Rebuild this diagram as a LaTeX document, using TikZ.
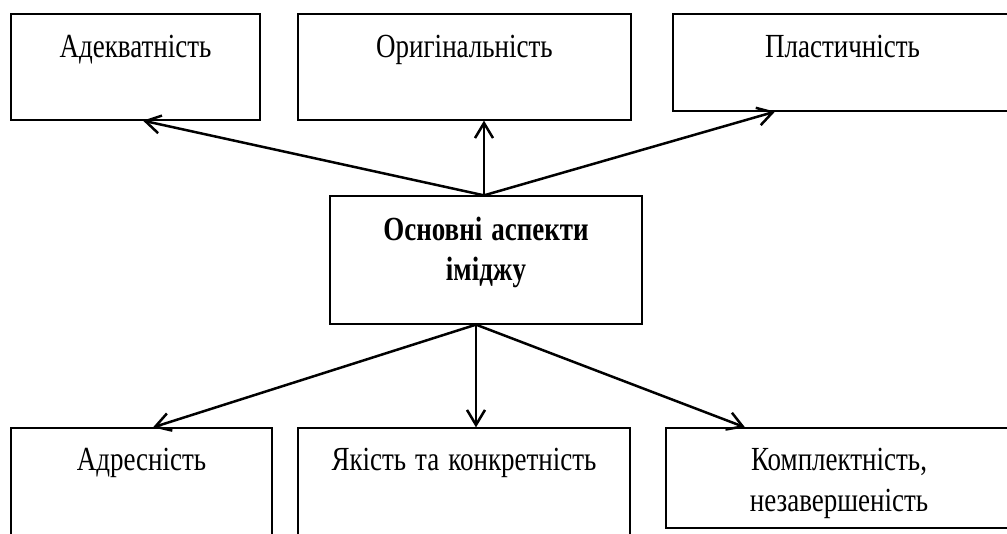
\documentclass[tikz,border=0pt]{standalone}
\usepackage{graphicx}
\usepackage{fontspec}
\setmainfont{Liberation Serif}
\usetikzlibrary{arrows.meta}

\newcommand{\tall}[1]{\scalebox{1}[1.25]{#1}}

\tikzset{
  box/.style={draw, line width=1.3pt, inner sep=0pt, align=center,
    font=\fontsize{27}{41}\selectfont},
  arr/.style={line width=2.5pt, -{Straight Barb[length=15pt,width=18pt]}},
}

\begin{document}
\begin{tikzpicture}[x=1pt, y=-1pt]
    \clip (0,0) rectangle (1007,534);
    \node[box, text width=249pt, text height=44pt, text depth=62pt] (adeq) at (135.5,67) {\tall{Адекватність}};
    \node[box, text width=333pt, text height=44pt, text depth=62pt] (orig) at (464.5,67) {\tall{Оригінальність}};
    \node[box, text width=339pt, text height=44pt, text depth=53pt] (plast) at (842.5,62.5) {\tall{Пластичність}};
    \node[box, text width=312pt, text height=45pt, text depth=83pt,
      font=\fontsize{27}{40}\selectfont\bfseries] (main) at (486,260) {\tall{Основні аспекти}\\\tall{іміджу}};
    \node[box, text width=261pt, text height=43pt, text depth=99pt] (adres) at (141.5,499) {\tall{Адресність}};
    \node[box, text width=332pt, text height=43pt, text depth=99pt] (yakist) at (464,499) {\tall{Якість та конкретність}};
    \node[box, text width=346pt, text height=43pt, text depth=57pt] (kompl) at (839,478) {\tall{Комплектність,}\\\tall{незавершеність}};
    \coordinate (up) at ([xshift=-2pt]main.north);
    \coordinate (down) at ([xshift=-10pt]main.south);
    \draw[arr] (up) -- ([xshift=7.5pt]adeq.south);
    \draw[arr] (up) -- ([xshift=19.5pt]orig.south);
    \draw[arr] (up) -- ([xshift=-67.5pt]plast.south);
    \draw[arr] (down) -- ([xshift=11.5pt]adres.north);
    \draw[arr] (down) -- ([xshift=12pt]yakist.north);
    \draw[arr] (down) -- ([xshift=-94pt]kompl.north);
\end{tikzpicture}
\end{document}
